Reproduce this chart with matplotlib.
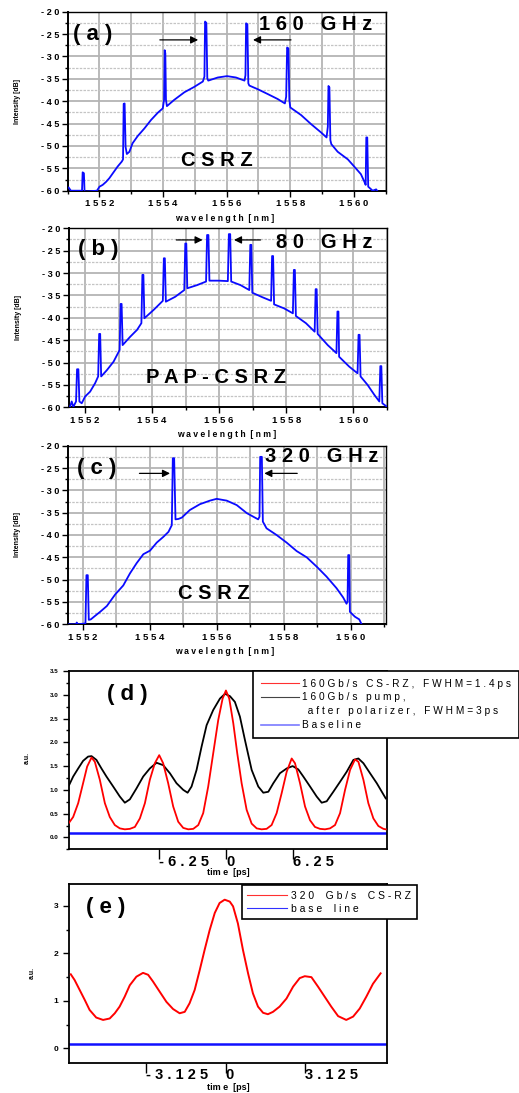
import matplotlib
matplotlib.use('Agg')
import matplotlib.pyplot as plt
from matplotlib.ticker import MultipleLocator, FuncFormatter
from matplotlib.lines import Line2D

plt.rcParams['font.family'] = ['Liberation Sans', 'DejaVu Sans']

# ---- spectrum (a): 160 GHz CSRZ ----
wl_a = [1551.03, 1551.10, 1551.45, 1551.47, 1551.51, 1551.53, 1551.92, 1552.00, 1552.10, 1552.21,
        1552.31, 1552.42, 1552.57, 1552.70, 1552.74, 1552.76, 1552.79, 1552.82, 1552.86, 1552.94,
        1553.04, 1553.20, 1553.41, 1553.62, 1553.83, 1553.99, 1554.03, 1554.05, 1554.07, 1554.09,
        1554.12, 1554.35, 1554.67, 1554.98, 1555.25, 1555.30, 1555.32, 1555.36, 1555.39, 1555.42,
        1555.72, 1556.01, 1556.29, 1556.56, 1556.59, 1556.61, 1556.65, 1556.68, 1556.71, 1556.97,
        1557.29, 1557.60, 1557.83, 1557.87, 1557.90, 1557.94, 1557.97, 1558.00, 1558.34, 1558.65,
        1558.97, 1559.14, 1559.18, 1559.20, 1559.23, 1559.26, 1559.29, 1559.49, 1559.81, 1560.01,
        1560.22, 1560.33, 1560.37, 1560.39, 1560.42, 1560.45, 1560.59, 1560.70, 1560.75]
db_a = [-59.3, -60.0, -60.0, -55.9, -56.1, -60.2, -60.0, -59.1, -58.7, -58.0,
        -57.2, -56.1, -54.6, -53.5, -53.0, -40.6, -40.5, -50.2, -51.8, -51.3,
        -49.4, -47.8, -46.1, -44.2, -42.6, -41.6, -39.7, -28.6, -29.3, -39.7,
        -41.1, -39.7, -38.0, -36.8, -35.6, -34.5, -22.2, -22.5, -34.9, -35.4,
        -34.7, -34.4, -34.7, -35.4, -34.2, -22.6, -22.8, -36.0, -36.5, -37.3,
        -38.4, -39.5, -40.5, -39.0, -28.0, -28.2, -39.7, -41.4, -43.1, -45.1,
        -47.0, -48.1, -45.7, -36.6, -36.9, -48.7, -49.6, -51.3, -53.0, -54.6,
        -56.3, -58.0, -58.7, -48.1, -48.1, -59.1, -60.0, -59.7, -60.2]

# ---- spectrum (b): 80 GHz PAP-CSRZ ----
wl_b = [1551.55, 1551.60, 1551.65, 1551.73, 1551.76, 1551.80, 1551.83, 1551.90, 1552.00, 1552.15,
        1552.30, 1552.39, 1552.42, 1552.45, 1552.48, 1552.65, 1552.85, 1553.03, 1553.06, 1553.09,
        1553.12, 1553.35, 1553.55, 1553.68, 1553.71, 1553.74, 1553.77, 1554.05, 1554.32, 1554.35,
        1554.38, 1554.41, 1554.69, 1554.96, 1554.99, 1555.02, 1555.05, 1555.34, 1555.61, 1555.64,
        1555.68, 1555.71, 1555.99, 1556.26, 1556.29, 1556.33, 1556.36, 1556.64, 1556.90, 1556.93,
        1556.96, 1556.99, 1557.29, 1557.55, 1557.58, 1557.61, 1557.64, 1557.94, 1558.20, 1558.23,
        1558.26, 1558.29, 1558.59, 1558.85, 1558.88, 1558.91, 1558.94, 1559.24, 1559.50, 1559.53,
        1559.56, 1559.58, 1559.88, 1560.13, 1560.16, 1560.19, 1560.22, 1560.43, 1560.63, 1560.78,
        1560.81, 1560.84, 1560.87, 1561.03]
db_b = [-59.9, -58.7, -59.9, -58.7, -51.5, -51.5, -58.7, -59.1, -57.6, -56.5,
        -54.6, -53.1, -43.6, -43.6, -53.1, -51.7, -49.8, -47.2, -36.9, -36.9,
        -46.1, -44.2, -42.7, -41.2, -30.4, -30.4, -40.1, -38.2, -36.2, -26.7,
        -26.7, -36.4, -35.3, -33.8, -23.4, -23.4, -33.4, -32.7, -31.9, -21.5,
        -21.5, -31.7, -31.7, -31.8, -21.3, -21.3, -31.9, -32.7, -33.8, -23.7,
        -23.7, -34.4, -35.4, -36.2, -26.2, -26.2, -37.0, -37.9, -39.0, -29.3,
        -29.3, -39.6, -41.2, -43.1, -33.6, -33.6, -43.6, -46.1, -47.9, -38.6,
        -38.6, -48.7, -50.9, -52.4, -43.8, -43.8, -53.1, -55.0, -57.2, -58.7,
        -50.8, -50.8, -59.1, -60.0]

# ---- spectrum (c): 320 GHz CSRZ ----
wl_c = [1551.55, 1551.80, 1551.82, 1551.85, 1552.08, 1552.11, 1552.15, 1552.18, 1552.24, 1552.37,
        1552.52, 1552.72, 1552.97, 1553.21, 1553.41, 1553.61, 1553.81, 1554.01, 1554.21, 1554.41,
        1554.56, 1554.66, 1554.69, 1554.73, 1554.77, 1554.86, 1554.96, 1555.20, 1555.50, 1555.80,
        1556.00, 1556.30, 1556.60, 1556.90, 1557.24, 1557.28, 1557.30, 1557.35, 1557.38, 1557.49,
        1557.79, 1558.09, 1558.39, 1558.69, 1558.99, 1559.28, 1559.58, 1559.78, 1559.88, 1559.91,
        1559.93, 1559.96, 1559.98, 1560.13, 1560.26, 1560.33, 1560.38]
db_c = [-60.0, -60.0, -59.6, -60.0, -59.8, -49.0, -49.0, -59.0, -58.9, -58.1,
        -57.2, -55.9, -53.3, -51.3, -48.6, -46.3, -44.3, -43.5, -41.7, -40.4,
        -39.3, -37.8, -22.8, -22.8, -36.5, -36.4, -36.1, -34.4, -33.1, -32.3,
        -31.9, -32.3, -33.3, -35.1, -36.5, -35.9, -22.5, -22.5, -37.0, -38.5,
        -40.0, -41.7, -43.6, -45.0, -47.1, -49.3, -51.9, -54.0, -55.4, -54.9,
        -44.5, -44.5, -57.2, -58.3, -58.9, -60.0, -60.4]

# ---- (d) 160 Gb/s traces ----
t_d_red = [-14.69, -14.31, -13.84, -13.38, -13.00, -12.59, -12.28, -11.81, -11.34, -10.88,
           -10.41, -9.94, -9.47, -9.00, -8.53, -8.06, -7.59, -7.13, -6.66, -6.25,
           -5.88, -5.41, -4.94, -4.47, -4.00, -3.53, -3.06, -2.59, -2.13, -1.66,
           -1.19, -0.72, -0.31, 0.00, 0.31, 0.69, 1.06, 1.47, 1.94, 2.41,
           2.88, 3.34, 3.81, 4.28, 4.75, 5.22, 5.69, 6.16, 6.47, 6.94,
           7.41, 7.88, 8.34, 8.81, 9.28, 9.75, 10.22, 10.69, 11.16, 11.63,
           12.09, 12.41, 12.88, 13.34, 13.81, 14.28, 14.75, 14.97]
v_d_red = [0.31, 0.43, 0.72, 1.14, 1.49, 1.68, 1.59, 1.21, 0.72, 0.43,
           0.26, 0.19, 0.17, 0.18, 0.22, 0.40, 0.72, 1.21, 1.56, 1.73,
           1.56, 1.14, 0.65, 0.33, 0.20, 0.17, 0.18, 0.26, 0.51, 1.07,
           1.77, 2.47, 2.92, 3.09, 2.92, 2.40, 1.77, 1.14, 0.58, 0.29,
           0.19, 0.17, 0.18, 0.26, 0.51, 0.93, 1.38, 1.66, 1.56, 1.14,
           0.65, 0.36, 0.22, 0.18, 0.17, 0.19, 0.26, 0.51, 1.00, 1.42,
           1.64, 1.59, 1.21, 0.72, 0.40, 0.24, 0.18, 0.17]
t_d_black = [-14.69, -14.31, -13.84, -13.38, -12.91, -12.59, -12.13, -11.66, -11.19, -10.56,
             -9.94, -9.47, -9.00, -8.38, -7.75, -7.13, -6.50, -5.88, -5.25, -4.63,
             -4.00, -3.59, -3.22, -2.75, -2.28, -1.81, -1.19, -0.56, -0.09, 0.38,
             0.84, 1.31, 1.78, 2.41, 3.03, 3.50, 3.97, 4.44, 5.06, 5.69,
             6.25, 6.78, 7.25, 7.88, 8.50, 8.97, 9.44, 10.06, 10.69, 11.31,
             11.94, 12.41, 12.88, 13.50, 14.13, 14.97]
v_d_black = [1.10, 1.28, 1.45, 1.61, 1.70, 1.71, 1.63, 1.45, 1.28, 1.07,
             0.86, 0.73, 0.80, 1.03, 1.28, 1.45, 1.57, 1.52, 1.35, 1.14,
             1.00, 0.94, 1.07, 1.42, 1.91, 2.36, 2.68, 2.92, 3.02, 2.97,
             2.85, 2.54, 2.05, 1.42, 1.07, 0.94, 0.96, 1.14, 1.35, 1.45,
             1.50, 1.43, 1.28, 1.07, 0.86, 0.73, 0.76, 0.96, 1.17, 1.38,
             1.63, 1.66, 1.56, 1.35, 1.14, 0.82]
t_d_base = [-14.7, 15.1]
v_d_base = [0.10, 0.10]

# ---- (e) 320 Gb/s trace ----
t_e_red = [-6.09, -5.94, -5.74, -5.54, -5.35, -5.09, -4.82, -4.56, -4.36, -4.17,
           -3.97, -3.77, -3.51, -3.25, -3.05, -2.86, -2.59, -2.33, -2.07, -1.81,
           -1.61, -1.42, -1.22, -1.02, -0.83, -0.63, -0.43, -0.24, -0.04, 0.16,
           0.29, 0.48, 0.68, 0.88, 1.07, 1.27, 1.47, 1.66, 1.86, 2.12,
           2.39, 2.65, 2.91, 3.11, 3.37, 3.63, 3.89, 4.15, 4.42, 4.74,
           5.01, 5.27, 5.53, 5.79, 6.09]
v_e_red = [1.56, 1.44, 1.23, 1.02, 0.81, 0.65, 0.60, 0.63, 0.74, 0.88,
           1.09, 1.33, 1.51, 1.59, 1.55, 1.41, 1.19, 0.98, 0.83, 0.74,
           0.77, 0.95, 1.23, 1.65, 2.07, 2.49, 2.85, 3.06, 3.13, 3.09,
           2.99, 2.63, 2.07, 1.58, 1.16, 0.88, 0.75, 0.72, 0.77, 0.88,
           1.05, 1.30, 1.48, 1.52, 1.50, 1.30, 1.09, 0.88, 0.68, 0.60,
           0.67, 0.84, 1.09, 1.36, 1.58]
t_e_base = [-6.16, 6.33]
v_e_base = [0.10, 0.10]

W, H = 519.0, 1093.0


def rect(left, top, right, bottom):
    return [left / W, 1 - bottom / H, (right - left) / W, (bottom - top) / H]


def spaced(s):
    return ' '.join(s)


fig = plt.figure(figsize=(W / 100, H / 100), dpi=100)


def spectrum(box, wl, db, xlim, letter, letter_pos, ghz, ghz_pos, fmt, fmt_pos, arrows):
    ax = fig.add_axes(box)
    ax.plot(wl, db, color='#0a0aff', lw=1.3, zorder=3)
    ax.set_xlim(*xlim)
    ax.set_ylim(-60, -20)
    ax.xaxis.set_major_locator(MultipleLocator(2))
    ax.xaxis.set_minor_locator(MultipleLocator(1))
    ax.yaxis.set_major_locator(MultipleLocator(5))
    ax.yaxis.set_minor_locator(MultipleLocator(2.5))
    ax.grid(True, which='major', color='#b4b4b4', lw=1.3)
    ax.grid(True, which='minor', axis='x', color='#b4b4b4', lw=1.3)
    ax.grid(True, which='minor', axis='y', color='#c4c4c4', lw=0.9, ls=(0, (2, 1)))
    ax.set_axisbelow(True)
    ax.xaxis.set_major_formatter(FuncFormatter(lambda v, p: spaced('%d' % v)))
    ax.yaxis.set_major_formatter(FuncFormatter(lambda v, p: spaced('%d' % v)))
    ax.tick_params(which='both', direction='out', top=False, right=False, width=1)
    ax.tick_params(which='major', length=4, pad=2)
    ax.tick_params(axis='x', which='major', labelsize=6.8)
    ax.tick_params(axis='y', which='major', labelsize=6.6)
    ax.tick_params(which='minor', length=2)
    for lbl in ax.get_xticklabels() + ax.get_yticklabels():
        lbl.set_fontweight('bold')
    for s in ['left', 'bottom']:
        ax.spines[s].set_linewidth(1.4)
    for s in ['top', 'right']:
        ax.spines[s].set_linewidth(1.0)
    ax.set_xlabel(spaced('wavelength') + '  ' + spaced('[nm]'), fontsize=6.2, fontweight='bold')
    ax.xaxis.set_label_coords(0.495, -0.128)
    ax.set_ylabel('Intensity [dB]', fontsize=5, fontweight='bold')
    ax.yaxis.set_label_coords(-0.148, 0.5)
    ax.text(letter_pos[0], letter_pos[1], spaced(letter), transform=ax.transAxes,
            fontsize=16, fontweight='bold', va='center', ha='left')
    ax.text(ghz_pos[0], ghz_pos[1], ghz, transform=ax.transAxes,
            fontsize=14.5, fontweight='bold', va='center', ha='left')
    ax.text(fmt_pos[0], fmt_pos[1], fmt, transform=ax.transAxes,
            fontsize=14.5, fontweight='bold', va='center', ha='left')
    for x0, x1, y in arrows:
        ax.annotate('', xy=(x1, y), xytext=(x0, y),
                    arrowprops=dict(arrowstyle='-|>', color='k', lw=0.9, mutation_scale=11))
    return ax


spectrum(rect(67.7, 11.7, 385.7, 190.7), wl_a, db_a, (1551.0, 1561.0),
         '(a)', (0.017, 0.875), '1 6 0   G H z', (0.60, 0.926),
         'C S R Z', (0.355, 0.171),
         [(1553.81, 1555.19, -26.3), (1558.11, 1556.74, -26.3)])
spectrum(rect(69, 228.3, 386.7, 407.3), wl_b, db_b, (1551.52, 1561.0),
         '(b)', (0.028, 0.879), '8 0   G H z', (0.652, 0.918),
         'P A P - C S R Z', (0.242, 0.169),
         [(1554.64, 1555.59, -22.6), (1557.32, 1556.36, -22.6)])
spectrum(rect(67.7, 445.7, 385.7, 624.3), wl_c, db_c, (1551.55, 1561.05),
         '(c)', (0.03, 0.872), '3 2 0   G H z', (0.62, 0.937),
         'C S R Z', (0.347, 0.172),
         [(1553.61, 1554.69, -26.2), (1558.49, 1557.34, -26.2)])


def time_axes(box, xlim, ylim, xt, ymaj, ymin, yfmt, ylabsize, letter_pos):
    ax = fig.add_axes(box)
    ax.set_xlim(*xlim)
    ax.set_ylim(*ylim)
    ax.set_xticks(xt)
    ax.set_xticklabels([spaced(('%g' % v)) for v in xt], fontsize=10.5, fontweight='bold')
    for lbl in ax.get_xticklabels():
        lbl.set_horizontalalignment('left')
    ax.yaxis.set_major_locator(MultipleLocator(ymaj))
    ax.yaxis.set_minor_locator(MultipleLocator(ymin))
    ax.yaxis.set_major_formatter(FuncFormatter(lambda v, p: yfmt % v))
    ax.tick_params(axis='x', direction='out', length=7, width=1, pad=-3, top=False)
    ax.tick_params(axis='y', which='major', direction='out', length=4, width=1,
                   labelsize=ylabsize, right=False)
    ax.tick_params(axis='y', which='minor', direction='out', length=2, width=1, right=False)
    for lbl in ax.get_yticklabels():
        lbl.set_fontweight('bold')
    for s in ax.spines.values():
        s.set_linewidth(1.3)
    ax.set_xlabel('tim e  [ps]', fontsize=6.5, fontweight='bold')
    ax.set_ylabel('a.u.', fontsize=5, fontweight='bold')
    ax.text(letter_pos[0], letter_pos[1], spaced(letter_pos[2]), transform=ax.transAxes,
            fontsize=16, fontweight='bold', va='center', ha='left')
    return ax


ax_d = time_axes(rect(69, 671, 386.7, 849.3), (-14.7, 15.06), (-0.25, 3.5),
                 [-6.25, 0, 6.25], 0.5, 0.25, '%.1f', 4.5, (0.12, 0.871, '(d)'))
ax_d.plot(t_d_base, v_d_base, color='#1010ff', lw=1.8, zorder=2)
ax_d.plot(t_d_black, v_d_black, color='black', lw=1.3, zorder=3)
ax_d.plot(t_d_red, v_d_red, color='#ff0000', lw=1.3, zorder=4)
ax_d.xaxis.set_label_coords(0.5, -0.103)
ax_d.yaxis.set_label_coords(-0.12, 0.512)
leg_d = ax_d.legend(
    [Line2D([], [], color='#ff3030', lw=0.8), Line2D([], [], color='#444444', lw=0.8),
     Line2D([], [], color='none'), Line2D([], [], color='#7a7aff', lw=1.2)],
    [spaced('160Gb/s') + '   ' + spaced('CS-RZ,') + '   ' + spaced('FWHM=1.4ps'),
     spaced('160Gb/s') + '   ' + spaced('pump,'),
     '  ' + spaced('after') + '   ' + spaced('polarizer,') + '   ' + spaced('FWHM=3ps'),
     spaced('Baseline')],
    loc='upper left', bbox_to_anchor=(253.3 / W, 1 - 671 / H), bbox_transform=fig.transFigure,
    fontsize=7.3, frameon=True, fancybox=False, edgecolor='black', framealpha=1,
    borderaxespad=0, handlelength=3.8, handletextpad=0.3, labelspacing=0.38, borderpad=0.75)
leg_d.get_frame().set_linewidth(1.2)

ax_e = time_axes(rect(69, 884, 386.7, 1062.7), (-6.16, 6.33), (-0.3, 3.46),
                 [-3.125, 0, 3.125], 1, 0.5, '%d', 6, (0.053, 0.868, '(e)'))
ax_e.plot(t_e_base, v_e_base, color='#1010ff', lw=1.8, zorder=2)
ax_e.plot(t_e_red, v_e_red, color='#ff0000', lw=1.4, zorder=3)
ax_e.xaxis.set_label_coords(0.5, -0.112)
ax_e.yaxis.set_label_coords(-0.104, 0.502)
leg_e = ax_e.legend(
    [Line2D([], [], color='#ff3030', lw=0.8), Line2D([], [], color='#3030ff', lw=0.8)],
    [spaced('320') + '    ' + spaced('Gb/s') + '    ' + spaced('CS-RZ'),
     spaced('base') + '    ' + spaced('line')],
    loc='upper left', bbox_to_anchor=(242 / W, 1 - 885.3 / H), bbox_transform=fig.transFigure,
    fontsize=7.5, frameon=True, fancybox=False, edgecolor='black', framealpha=1,
    borderaxespad=0, handlelength=3.8, handletextpad=0.45, labelspacing=0.3, borderpad=0.5)
leg_e.get_frame().set_linewidth(1.2)

fig.savefig('out.png', dpi=100)
